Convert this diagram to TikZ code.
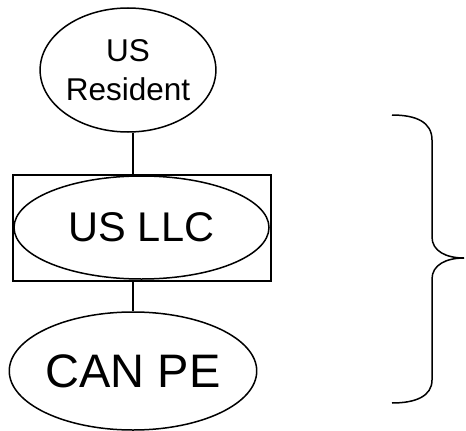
\documentclass[tikz,border=0pt]{standalone}
\usepackage{fontspec}
\setmainfont{Liberation Sans}
\usetikzlibrary{shapes.geometric}
\begin{document}
\begin{tikzpicture}[x=1pt,y=-1pt,
  line width=1.5pt,
  oval/.style={draw,ellipse,inner sep=0pt,align=center},
  frame/.style={draw,rectangle,inner sep=0pt}]
\useasboundingbox (0,0) rectangle (466,431);

% entities
\node[oval,minimum width=170pt,minimum height=124pt,
      font=\fontsize{31.5pt}{39pt}\selectfont] (res) at (128,70) {US\\Resident};
\node[frame,minimum width=258pt,minimum height=106pt] (box) at (142,228) {};
\node[oval,minimum width=255pt,minimum height=103pt,
      font=\fontsize{41.5pt}{48pt}\selectfont] (llc) at (141.5,227.5) {US LLC};
\node[oval,minimum width=238pt,minimum height=118pt,
      font=\fontsize{47pt}{56pt}\selectfont] (can) at (133,371) {CAN PE};

% ownership links
\draw (res.south -| can.center) -- (box.north -| can.center);
\draw (box.south -| can.center) -- (can.north);

% grouping brace
\draw (392,115) .. controls (416,115) and (432,122) .. (432,140)
  -- (432,237) .. controls (432,251) and (446,258) .. (464,258)
  .. controls (446,258) and (432,265) .. (432,279)
  -- (432,380) .. controls (432,396) and (416,403) .. (392,403);
\end{tikzpicture}
\end{document}
